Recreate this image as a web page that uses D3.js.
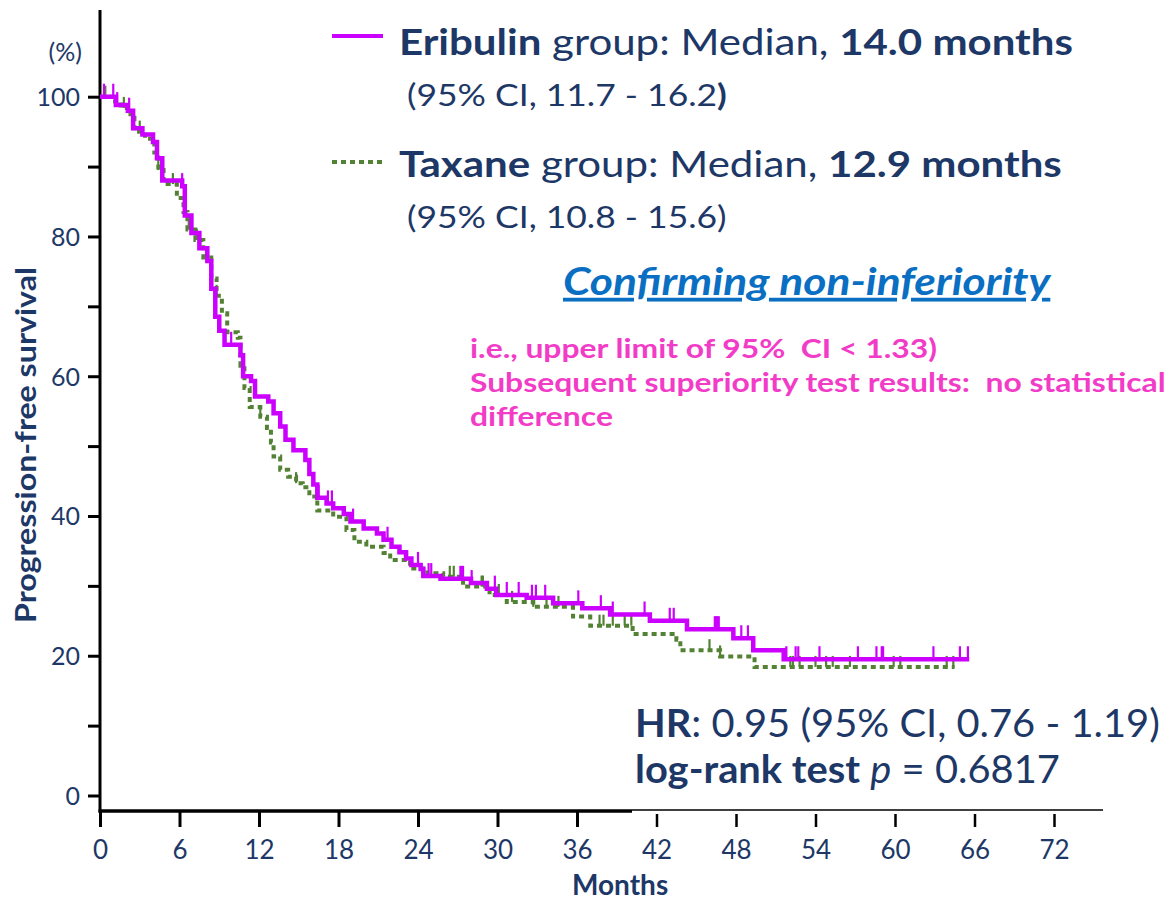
<!DOCTYPE html>
<html>
<head>
<meta charset="utf-8">
<script src="https://cdn.jsdelivr.net/npm/d3@7"></script>
<style>
  html, body { margin: 0; padding: 0; background: #ffffff; }
  svg { display: block; }
  text { font-family: Lato, "Open Sans", sans-serif; }
</style>
</head>
<body>
<svg id="chart" width="1176" height="904"></svg>
<script>
// ---- Kaplan–Meier steps: [month, survival % after the drop] ----
const eribulinSteps = [
  [0, 100], [1.2, 98.8], [2.1, 98.0], [2.5, 95.5], [3.2, 94.6], [4.0, 93.5],
  [4.3, 91.2], [4.7, 88.0], [6.2, 87.2], [6.4, 83.0], [6.9, 80.5], [7.5, 78.3],
  [8.1, 76.5], [8.4, 72.5], [8.7, 68.5], [9.0, 66.5], [9.4, 64.5], [10.6, 63.0],
  [10.8, 60.0], [11.4, 59.3], [11.7, 57.1], [12.7, 56.4], [13.1, 54.7], [13.6, 52.8],
  [14.0, 50.9], [14.6, 49.4], [15.5, 48.0], [15.8, 46.0], [16.1, 44.5], [16.4, 42.6],
  [17.1, 41.8], [17.6, 41.1], [18.4, 40.3], [18.9, 39.2], [19.9, 38.2], [20.9, 37.5],
  [21.4, 36.6], [22.0, 35.6], [22.6, 34.8], [23.1, 33.9], [23.5, 33.0], [24.2, 32.4],
  [24.4, 31.4], [25.7, 31.0], [28.0, 30.4], [29.2, 29.6], [29.9, 28.7], [32.2, 28.3],
  [34.2, 27.5], [36.4, 26.8], [38.5, 25.9], [41.5, 25.0], [44.3, 23.8], [47.8, 22.5],
  [49.3, 20.8], [51.6, 19.5], [65.6, 19.5]
];
const eribulinCensored = [
  0.3, 1.0, 1.3, 2.2, 6.2, 9.9, 11.7, 16.5, 17.2, 17.5, 19.1, 21.7, 24.0, 24.8, 25.0,
  27.2, 27.3, 27.4, 28.05, 29.8, 30.7, 31.6, 32.6, 32.9, 33.6, 36.1, 37.8, 38.7, 41.1,
  43.0, 43.3, 46.4, 46.5, 46.6, 46.7, 48.4, 48.9, 51.8, 52.5, 52.7, 54.3, 57.2, 58.6,
  59.0, 59.1, 62.9, 64.9, 65.5
];

const taxaneSteps = [
  [0, 100], [0.9, 99.3], [1.6, 98.4], [2.3, 97.0], [2.6, 95.0], [3.4, 94.0],
  [4.1, 92.0], [4.4, 89.5], [4.8, 87.5], [5.8, 85.5], [6.3, 83.5], [6.6, 81.0],
  [7.2, 79.5], [7.8, 77.0], [8.4, 74.0], [8.8, 71.5], [9.2, 69.0], [9.6, 66.3],
  [10.4, 65.5], [10.6, 61.5], [10.9, 58.3], [11.3, 55.6], [12.1, 54.2], [12.6, 52.6],
  [12.9, 50.5], [13.1, 48.5], [13.6, 46.6], [14.2, 45.6], [14.8, 44.7], [15.3, 44.1],
  [15.8, 42.8], [16.4, 40.8], [17.6, 39.9], [18.6, 38.0], [19.2, 36.3], [20.1, 35.6],
  [21.4, 34.7], [21.9, 33.7], [23.4, 32.5], [24.7, 31.8], [25.9, 31.3], [27.4, 29.9],
  [29.4, 28.7], [30.7, 27.7], [32.7, 27.0], [35.7, 25.6], [37.0, 24.3], [40.2, 23.1],
  [43.5, 22.3], [43.8, 20.8], [46.8, 19.9], [49.4, 18.4], [64.5, 18.4]
];
const taxaneCensored = [
  0.4, 1.8, 3.0, 4.4, 5.5, 6.7, 7.3, 8.0, 8.8, 12.1, 14.8, 26.4, 26.7, 28.8, 28.9,
  30.1, 31.1, 32.7, 33.7, 34.6, 37.7, 38.0, 38.7, 39.6, 40.1, 46.0, 46.8, 52.1, 52.3,
  52.8, 54.0, 54.8, 55.3, 56.6, 59.9, 60.4, 63.9, 64.4
];

const monthTicks = [0, 6, 12, 18, 24, 30, 36, 42, 48, 54, 60, 66, 72];
const survivalTicks = [0, 10, 20, 30, 40, 50, 60, 70, 80, 90, 100];
const survivalLabels = [0, 20, 40, 60, 80, 100];

// ---- colours ----
const NAVY = "#1d3867";
const PURPLE = "#cc00ff";
const GREEN = "#548235";
const PINK = "#f23cc8";
const BLUE = "#0a6fc2";

const svg = d3.select("#chart");

const x = d3.scaleLinear().domain([0, 72]).range([100, 1054]);
const y = d3.scaleLinear().domain([0, 100]).range([795.5, 96.7]);
const axisY = 811;

// stretch a text horizontally so that it spans [left, right]
function fitWidth(sel, left, right) {
  const w = sel.node().getBBox().width;
  const k = (right - left) / w;
  sel.attr("transform", `translate(${left},0) scale(${k},1) translate(${-left},0)`);
  return k;
}
function stretch(sel, left, k) {
  sel.attr("transform", `translate(${left},0) scale(${k},1) translate(${-left},0)`);
}

// ---- y axis ----
const yAxis = d3.axisLeft(y)
  .tickValues(survivalTicks)
  .tickSize(12)
  .tickPadding(8)
  .tickFormat(d => survivalLabels.includes(d) ? d : "");
const gy = svg.append("g").attr("transform", "translate(100,0)").call(yAxis);
gy.select(".domain").remove();
gy.selectAll(".tick line").attr("stroke", "#000").attr("stroke-width", 3);
gy.selectAll(".tick text")
  .attr("fill", NAVY).attr("font-size", 25).attr("font-family", "Lato").attr("dy", "0.36em");
svg.append("line")
  .attr("x1", 100).attr("x2", 100).attr("y1", 10).attr("y2", axisY + 1.5)
  .attr("stroke", "#000").attr("stroke-width", 3);

// ---- x axis ----
const xAxis = d3.axisBottom(x).tickValues(monthTicks).tickSize(16).tickPadding(14);
const gx = svg.append("g").attr("transform", `translate(0,${axisY})`).call(xAxis);
gx.select(".domain").remove();
gx.selectAll(".tick line")
  .attr("stroke", "#000")
  .attr("stroke-width", d => d <= 36 ? 3 : 2.5)
  .attr("y1", d => d <= 36 ? 0 : 3);
gx.selectAll(".tick text")
  .attr("fill", NAVY).attr("font-size", 26).attr("font-family", "Lato");
svg.append("line")
  .attr("x1", 98.5).attr("x2", 632).attr("y1", axisY).attr("y2", axisY)
  .attr("stroke", "#000").attr("stroke-width", 3.5);
svg.append("line")
  .attr("x1", 632).attr("x2", 1103).attr("y1", axisY - 1).attr("y2", axisY - 1)
  .attr("stroke", "#000").attr("stroke-width", 1.5);

// ---- axis titles ----
const yTitle = svg.append("text")
  .attr("text-anchor", "middle")
  .attr("font-weight", 700).attr("font-size", 28).attr("fill", NAVY)
  .text("Progression-free survival");
const yTitleLen = yTitle.node().getBBox().width;
yTitle.attr("transform", `translate(36,445) rotate(-90) scale(${356 / yTitleLen},1)`);
svg.append("text")
  .attr("x", 82).attr("y", 61).attr("text-anchor", "end")
  .attr("font-size", 25).attr("fill", NAVY)
  .text("(%)");
svg.append("text")
  .attr("x", 572).attr("y", 895)
  .attr("font-weight", 700).attr("font-size", 28).attr("fill", NAVY)
  .text("Months");

// ---- curves ----
const stepLine = d3.line()
  .x(d => x(d[0]))
  .y(d => y(d[1]))
  .curve(d3.curveStepAfter);

function survivalAt(steps, t) {
  let s = steps[0][1];
  for (const [tm, v] of steps) { if (tm <= t) s = v; else break; }
  return s;
}

const plot = svg.append("g");

// Taxane: dotted olive line with solid censor ticks
plot.append("path")
  .datum(taxaneSteps)
  .attr("d", stepLine)
  .attr("fill", "none")
  .attr("stroke", GREEN)
  .attr("stroke-width", 4)
  .attr("stroke-dasharray", "5,4");
plot.append("g").selectAll("line")
  .data(taxaneCensored)
  .join("line")
  .attr("x1", d => x(d)).attr("x2", d => x(d))
  .attr("y1", d => y(survivalAt(taxaneSteps, d)))
  .attr("y2", d => y(survivalAt(taxaneSteps, d)) - 11)
  .attr("stroke", GREEN).attr("stroke-width", 2.2);

// Eribulin: solid purple line with censor ticks
plot.append("path")
  .datum(eribulinSteps)
  .attr("d", stepLine)
  .attr("fill", "none")
  .attr("stroke", PURPLE)
  .attr("stroke-width", 4.5);
plot.append("g").selectAll("line")
  .data(eribulinCensored)
  .join("line")
  .attr("x1", d => x(d)).attr("x2", d => x(d))
  .attr("y1", d => y(survivalAt(eribulinSteps, d)))
  .attr("y2", d => y(survivalAt(eribulinSteps, d)) - 13)
  .attr("stroke", PURPLE).attr("stroke-width", 2.2);

// ---- legend ----
svg.append("line")
  .attr("x1", 332).attr("x2", 383).attr("y1", 36).attr("y2", 36)
  .attr("stroke", PURPLE).attr("stroke-width", 4);
svg.append("line")
  .attr("x1", 332).attr("x2", 383).attr("y1", 162).attr("y2", 162)
  .attr("stroke", GREEN).attr("stroke-width", 4).attr("stroke-dasharray", "5,4");

function richText(xp, yp, size, parts) {
  const t = svg.append("text").attr("x", xp).attr("y", yp)
    .attr("font-size", size).attr("fill", NAVY);
  parts.forEach(p => {
    const s = t.append("tspan").text(p.t);
    if (p.b) s.attr("font-weight", 700);
    if (p.i) s.attr("font-style", "italic");
  });
  return t;
}

const leg1 = richText(399, 55, 37, [
  { t: "Eribulin", b: true }, { t: " group: Median, " }, { t: "14.0 months", b: true }
]);
const leg2 = richText(407, 106, 30, [
  { t: "(95% CI, 11.7 - 16.2" }, { t: ")", b: true }
]);
const leg3 = richText(399, 177, 37, [
  { t: "Taxane", b: true }, { t: " group: Median, " }, { t: "12.9 months", b: true }
]);
const leg4 = richText(407, 228, 30, [
  { t: "(95% CI, 10.8 - 15.6)" }
]);
const kLeg = fitWidth(leg1, 399, 1073);
stretch(leg3, 399, kLeg);
const kCI = fitWidth(leg2, 407, 727);
stretch(leg4, 407, kCI);

// ---- annotations ----
const confirm = svg.append("text")
  .attr("x", 563).attr("y", 295)
  .attr("font-size", 38).attr("font-weight", 700).attr("font-style", "italic")
  .attr("fill", BLUE).attr("text-decoration", "underline")
  .text("Confirming non-inferiority");
fitWidth(confirm, 563, 1052);

const pinkLines = [
  "i.e., upper limit of 95%  CI < 1.33)",
  "Subsequent superiority test results:  no statistical",
  "difference"
];
const pink = svg.append("g").selectAll("text")
  .data(pinkLines)
  .join("text")
  .attr("x", 470)
  .attr("y", (d, i) => 358 + i * 34)
  .attr("font-family", "'Liberation Sans', Arial, sans-serif")
  .attr("font-weight", 700).attr("font-size", 26)
  .attr("fill", PINK)
  .style("white-space", "pre")
  .text(d => d);
const kPink = fitWidth(d3.select(pink.nodes()[1]), 470, 1166);
stretch(d3.select(pink.nodes()[0]), 470, kPink);
stretch(d3.select(pink.nodes()[2]), 470, kPink);

const hr = richText(635, 737, 39, [
  { t: "HR", b: true }, { t: ": 0.95 (95% CI, 0.76 - 1.19)" }
]);
const kHR = fitWidth(hr, 635, 1160);
const lr = richText(635, 783, 39, [
  { t: "log-rank test", b: true }, { t: " " }, { t: "p", i: true }, { t: " = 0.6817" }
]);
stretch(lr, 635, kHR);
</script>
</body>
</html>
